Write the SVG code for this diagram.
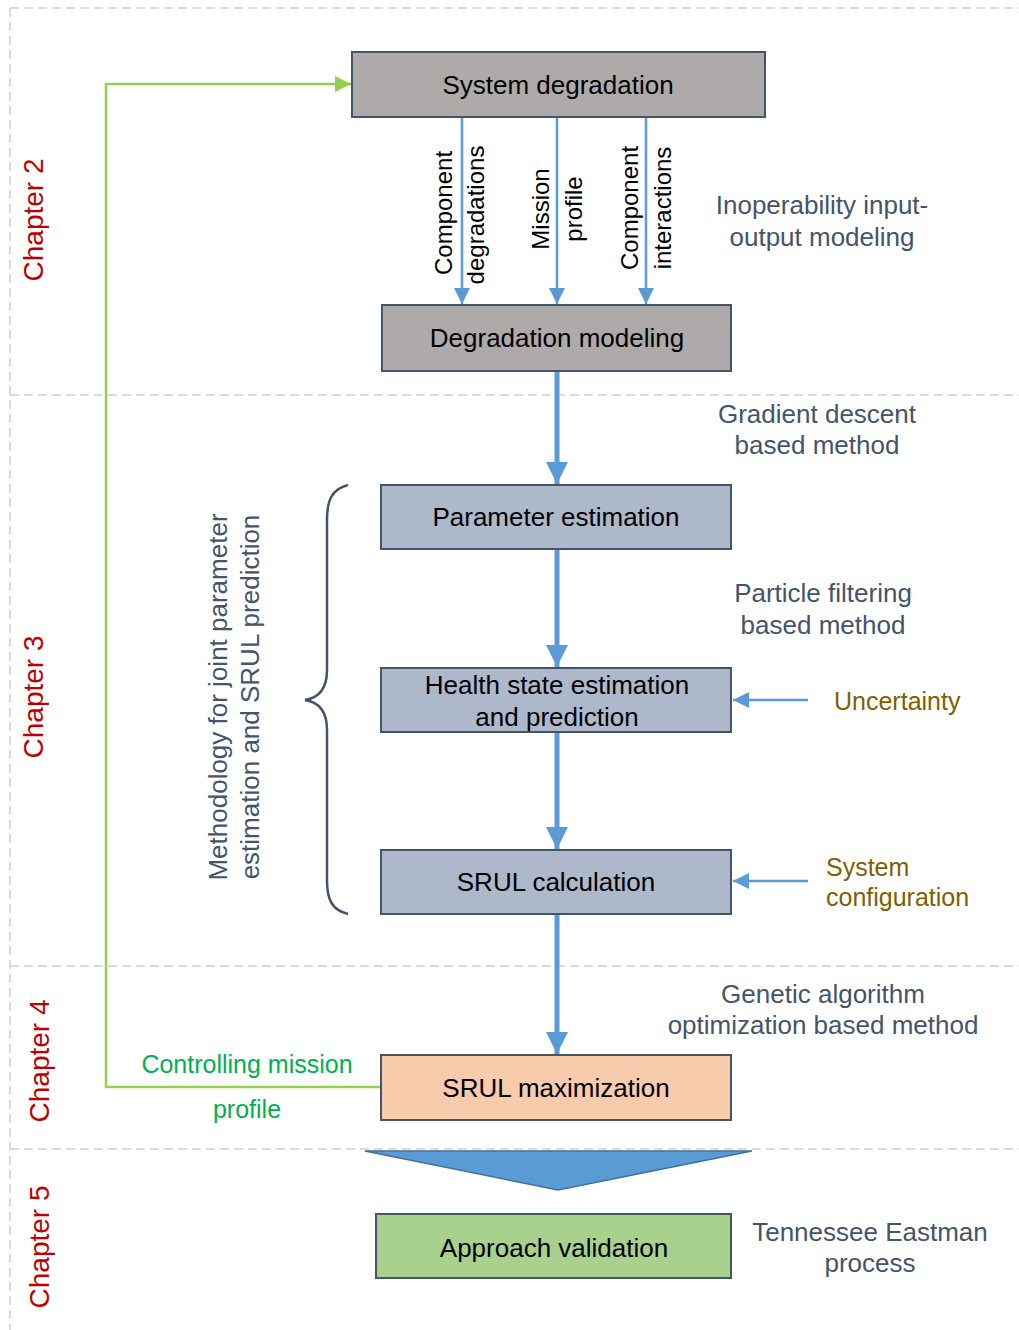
<svg xmlns="http://www.w3.org/2000/svg" width="1019" height="1330" viewBox="0 0 1019 1330">
  <style>
    .box { stroke: #44546a; stroke-width: 2; }
    .gray { fill: #aeaaaa; }
    .blue { fill: #adb9ca; }
    .lbl { font-family: "Liberation Sans", Arial, sans-serif; font-size: 26px; fill: #000; text-anchor: middle; }
    .vl { font-family: "Liberation Sans", Arial, sans-serif; font-size: 24px; fill: #000; text-anchor: middle; }
    .note { font-family: "Liberation Sans", Arial, sans-serif; font-size: 26px; fill: #44546a; text-anchor: middle; }
    .gold { font-family: "Liberation Sans", Arial, sans-serif; font-size: 25px; fill: #7f6000; }
    .chap { font-family: "Liberation Sans", Arial, sans-serif; font-size: 28px; fill: #c00000; text-anchor: middle; }
    .ctrl { font-family: "Liberation Sans", Arial, sans-serif; font-size: 25px; fill: #00b050; text-anchor: middle; }
    .grid { stroke: #d0d0d0; stroke-width: 1.5; stroke-dasharray: 9 5; fill: none; }
    .thin { stroke: #5b9bd5; stroke-width: 2.5; fill: none; }
    .thick { stroke: #5b9bd5; stroke-width: 5; fill: none; }
  </style>
  <defs>
    <marker id="headThin" markerUnits="userSpaceOnUse" markerWidth="16" markerHeight="16" viewBox="0 0 16 16" refX="16" refY="8" orient="auto">
      <path d="M0,0 L16,8 L0,16 Z" fill="#5b9bd5"/>
    </marker>
    <marker id="headThick" markerUnits="userSpaceOnUse" markerWidth="22" markerHeight="22" viewBox="0 0 22 22" refX="22" refY="11" orient="auto">
      <path d="M0,0 L22,11 L0,22 Z" fill="#5b9bd5"/>
    </marker>
    <marker id="headGreen" markerUnits="userSpaceOnUse" markerWidth="16" markerHeight="16" viewBox="0 0 16 16" refX="16" refY="8" orient="auto">
      <path d="M0,0 L16,8 L0,16 Z" fill="#92d050"/>
    </marker>
  </defs>

  <rect width="1019" height="1330" fill="#ffffff"/>

  <!-- chapter bands -->
  <g id="chapter-grid">
    <path class="grid" d="M10,8 H1019 M10,8 V1330 M10,395 H1019 M10,966 H1019 M10,1149 H1019"/>
  </g>

  <g id="chapter-labels">
    <text class="chap" transform="translate(43,220) rotate(-90)">Chapter 2</text>
    <text class="chap" transform="translate(43,697) rotate(-90)">Chapter 3</text>
    <text class="chap" transform="translate(49,1061) rotate(-90)">Chapter 4</text>
    <text class="chap" transform="translate(49,1247) rotate(-90)">Chapter 5</text>
  </g>

  <!-- connectors -->
  <g id="connectors">
    <line class="thin" x1="462" y1="118" x2="462" y2="304" marker-end="url(#headThin)"/>
    <line class="thin" x1="557" y1="118" x2="557" y2="304" marker-end="url(#headThin)"/>
    <line class="thin" x1="646" y1="118" x2="646" y2="304" marker-end="url(#headThin)"/>
    <line class="thick" x1="557" y1="372" x2="557" y2="484" marker-end="url(#headThick)"/>
    <line class="thick" x1="557" y1="550" x2="557" y2="667" marker-end="url(#headThick)"/>
    <line class="thick" x1="557" y1="733" x2="557" y2="849" marker-end="url(#headThick)"/>
    <line class="thick" x1="557" y1="915" x2="557" y2="1054" marker-end="url(#headThick)"/>
    <line class="thin" x1="808" y1="700" x2="733" y2="700" marker-end="url(#headThin)"/>
    <line class="thin" x1="808" y1="881" x2="733" y2="881" marker-end="url(#headThin)"/>
    <polyline points="381,1087 106,1087 106,84 351,84" fill="none" stroke="#92d050" stroke-width="2.5" marker-end="url(#headGreen)"/>
    <polygon points="365,1151 752,1151 558,1190" fill="#5b9bd5" stroke="#41719c" stroke-width="1.5"/>
    <path d="M348,485 C332,489 327,500 327,520 V670 C327,690 318,698 305,700 C318,702 327,710 327,730 V880 C327,900 332,910 348,914" fill="none" stroke="#44546a" stroke-width="2.5"/>
  </g>

  <!-- flow labels -->
  <g id="flow-labels">
    <text class="vl" transform="translate(452,213) rotate(-90)">Component</text>
    <text class="vl" transform="translate(484,215) rotate(-90)">degradations</text>
    <text class="vl" transform="translate(549,209) rotate(-90)">Mission</text>
    <text class="vl" transform="translate(582,209) rotate(-90)">profile</text>
    <text class="vl" transform="translate(638,208) rotate(-90)">Component</text>
    <text class="vl" transform="translate(671,208) rotate(-90)">interactions</text>
    <text class="note" transform="translate(227,697) rotate(-90)">Methodology for joint parameter</text>
    <text class="note" transform="translate(259,697) rotate(-90)">estimation and SRUL prediction</text>
    <text class="ctrl" x="247" y="1073">Controlling mission</text>
    <text class="ctrl" x="247" y="1118">profile</text>
  </g>

  <!-- method notes -->
  <g id="notes">
    <text class="note" x="822" y="214">Inoperability input-</text>
    <text class="note" x="822" y="246">output modeling</text>
    <text class="note" x="817" y="423">Gradient descent</text>
    <text class="note" x="817" y="454">based method</text>
    <text class="note" x="823" y="602">Particle filtering</text>
    <text class="note" x="823" y="634">based method</text>
    <text class="gold" x="834" y="710">Uncertainty</text>
    <text class="gold" x="826" y="876">System</text>
    <text class="gold" x="826" y="906">configuration</text>
    <text class="note" x="823" y="1003">Genetic algorithm</text>
    <text class="note" x="823" y="1034">optimization based method</text>
    <text class="note" x="870" y="1241">Tennessee Eastman</text>
    <text class="note" x="870" y="1272">process</text>
  </g>

  <!-- nodes -->
  <g id="system-degradation">
    <rect class="box gray" x="352" y="52" width="413" height="65"/>
    <text class="lbl" x="558" y="94">System degradation</text>
  </g>
  <g id="degradation-modeling">
    <rect class="box gray" x="382" y="305" width="349" height="66"/>
    <text class="lbl" x="557" y="347">Degradation modeling</text>
  </g>
  <g id="parameter-estimation">
    <rect class="box blue" x="381" y="485" width="350" height="64"/>
    <text class="lbl" x="556" y="526">Parameter estimation</text>
  </g>
  <g id="health-state">
    <rect class="box blue" x="381" y="668" width="350" height="64"/>
    <text class="lbl" x="557" y="694">Health state estimation</text>
    <text class="lbl" x="557" y="726">and prediction</text>
  </g>
  <g id="srul-calculation">
    <rect class="box blue" x="381" y="850" width="350" height="64"/>
    <text class="lbl" x="556" y="891">SRUL calculation</text>
  </g>
  <g id="srul-maximization">
    <rect class="box" x="381" y="1055" width="350" height="65" fill="#f8cbad"/>
    <text class="lbl" x="556" y="1097">SRUL maximization</text>
  </g>
  <g id="approach-validation">
    <rect class="box" x="376" y="1214" width="355" height="64" fill="#a9d18e"/>
    <text class="lbl" x="554" y="1257">Approach validation</text>
  </g>
</svg>
